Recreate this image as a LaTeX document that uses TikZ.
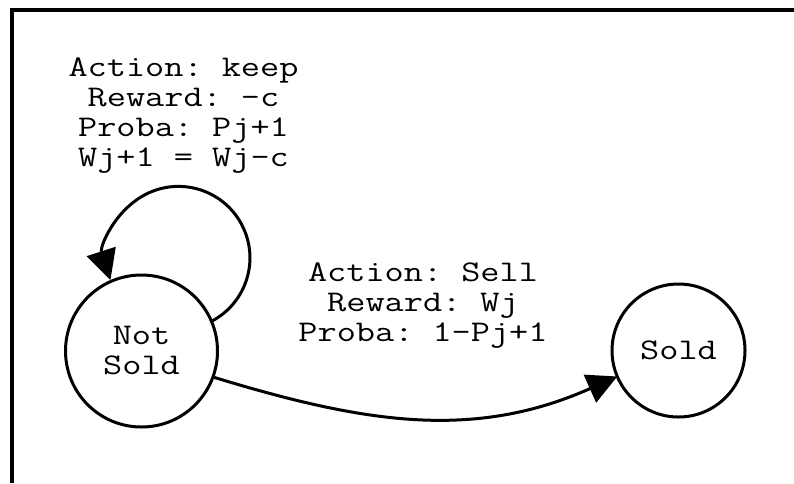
\documentclass[tikz,border=0pt]{standalone}
\usepackage{fontspec}
\setmonofont{Latin Modern Mono}[FakeStretch=1.24]
\usetikzlibrary{arrows.meta}
\begin{document}
\begin{tikzpicture}[x=1pt,y=1pt,
  txt/.style={font=\ttfamily\fontsize{30}{30}\selectfont, align=center, inner sep=0pt},
  state/.style={txt, draw, circle, line width=3pt, outer sep=0pt},
  edge/.style={line width=3pt, -{Triangle[length=30pt,width=30pt]}}]
\useasboundingbox (0,0) rectangle (794,-483);
\draw[line width=4pt] (12,-483) -- (12,-9.5) -- (794,-9.5);
\node[state, minimum size=152pt] (ns) at (141.5,-351) {Not\\Sold};
\node[state, minimum size=133pt] (s) at (678.5,-350.5) {Sold};
\node[txt] (l1) at (183.5,-115.5) {Action: keep\\Reward: -c\\Proba: Pj+1\\Wj+1 = Wj-c};
\node[txt] (l2) at (423,-305.7) {Action: Sell\\Reward: Wj\\Proba: 1-Pj+1};
\draw[edge] (ns.23) arc[start angle=-62.5, end angle=198, radius=71.5pt];
\draw[edge] (ns.-20) to[out=-17, in=204] (s.203);
\end{tikzpicture}
\end{document}
